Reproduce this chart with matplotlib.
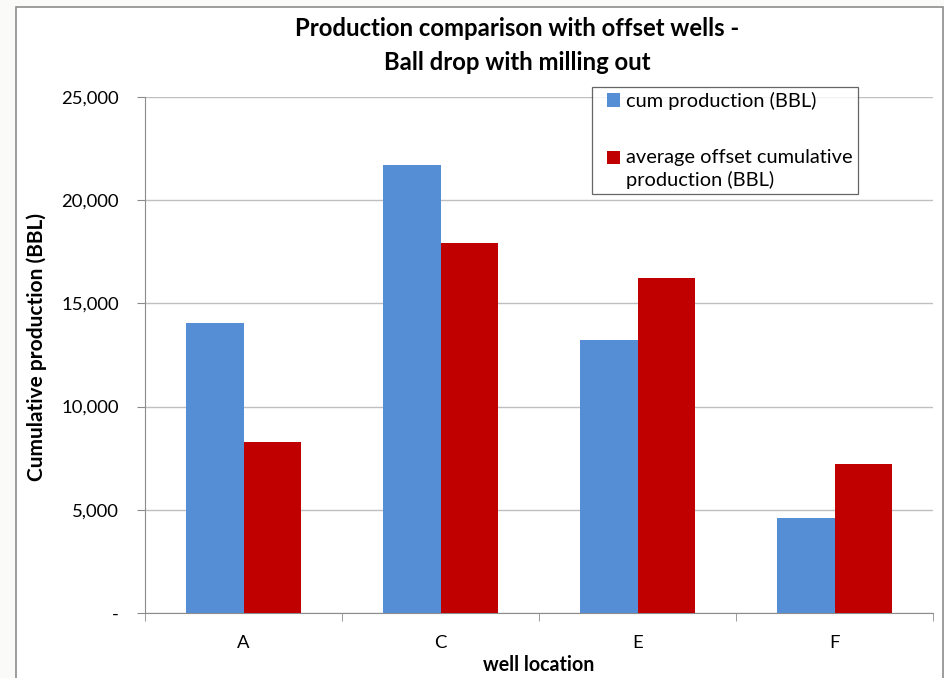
import matplotlib.pyplot as plt
import numpy as np
from matplotlib.patches import Rectangle
from matplotlib.legend_handler import HandlerPatch
from matplotlib.ticker import FuncFormatter

# dados
wells = ['A', 'C', 'E', 'F']
cum_production = [14050, 21700, 13230, 4600]
avg_offset = [8290, 17930, 16230, 7220]

titulo = ['Production comparison with offset wells -', 'Ball drop with milling out']

plt.rcParams['font.family'] = ['Lato', 'DejaVu Sans']

fig = plt.figure(figsize=(9.44, 6.78), dpi=100)
fig.patch.set_facecolor('#FAFAF8')
r = fig.canvas.get_renderer()


# tamanho de fonte para que o texto tenha a largura (px) medida na figura original
def tamanho(s, alvo, peso='normal', base=14.0):
    t = fig.text(0, 0, s, fontsize=base, fontweight=peso)
    larg = t.get_window_extent(renderer=r).width
    t.remove()
    return base * alvo / larg


# moldura do grafico
fig.patches.append(Rectangle((16 / 944, -0.01), (943 - 16) / 944, (678 - 7) / 678 + 0.01,
                             transform=fig.transFigure, facecolor='white',
                             edgecolor='#8C8C8C', linewidth=1.2, zorder=-5))

ax = fig.add_axes([145 / 944, 65 / 678, (933 - 145) / 944, (613 - 97) / 678])
ax.set_facecolor('none')
ax.set_zorder(2)

x = np.arange(len(wells))
w = 0.29
b1 = ax.bar(x - w / 2, cum_production, w, color='#558ED5', zorder=3)
b2 = ax.bar(x + w / 2, avg_offset, w, color='#C00000', zorder=3)

fs_tick = tamanho('25,000', 58)
ax.set_xlim(-0.5, len(wells) - 0.5)
ax.set_ylim(0, 25000)
ax.set_yticks(np.arange(0, 25001, 5000))
ax.yaxis.set_major_formatter(FuncFormatter(lambda v, p: '-' if v == 0 else f'{int(v):,}'))
ax.set_xticks(x)
ax.set_xticklabels(wells)
ax.set_xticks(np.arange(-0.5, len(wells)), minor=True)
ax.tick_params(axis='x', which='major', length=0, pad=16, labelsize=fs_tick)
ax.tick_params(axis='x', which='minor', length=5.5, color='#8C8C8C')
ax.tick_params(axis='y', length=5.8, color='#8C8C8C', labelsize=fs_tick, pad=13)
ax.grid(axis='y', color='#BFBFBF', linewidth=1, zorder=0)

for s in ['top', 'right']:
    ax.spines[s].set_visible(False)
for s in ['left', 'bottom']:
    ax.spines[s].set_color('#8C8C8C')

ax.set_xlabel('well location', fontsize=tamanho('well location', 112, 'bold'), fontweight='bold', labelpad=3)
ax.set_ylabel('Cumulative production (BBL)', fontsize=tamanho('Cumulative production (BBL)', 270, 'bold'),
              fontweight='bold')
ax.yaxis.set_label_coords((47 - 145) / 788, (613 - 347) / 516)

fs_tit = 0.5 * (tamanho(titulo[0], 442, 'bold') + tamanho(titulo[1], 272, 'bold'))
fig.text(517 / 944, 1 - 28 / 678, titulo[0], ha='center', va='center', fontsize=fs_tit, fontweight='bold')
fig.text(517 / 944, 1 - 62 / 678, titulo[1], ha='center', va='center', fontsize=fs_tit, fontweight='bold')


# quadradinho da legenda alinhado com a primeira linha do texto
def quadrado(shift):
    def f(legend, orig_handle, xdescent, ydescent, width, height, fontsize):
        s = 0.66 * fontsize
        return Rectangle((width - xdescent - s, -ydescent + (height - s) / 2 + shift * fontsize), s, s)
    return f


fs_leg = tamanho('average offset cumulative', 227)
leg = ax.legend([b1.patches[0], b2.patches[0]],
                ['cum production (BBL)', 'average offset cumulative\nproduction (BBL)'],
                handler_map={b1.patches[0]: HandlerPatch(patch_func=quadrado(0)),
                             b2.patches[0]: HandlerPatch(patch_func=quadrado(0.6))},
                loc='upper left', bbox_to_anchor=((592 - 145) / 788, (613 - 87) / 516),
                frameon=True, fancybox=False, fontsize=fs_leg, handlelength=1.16, handleheight=0.7,
                handletextpad=0.3, labelspacing=1.95, borderpad=0.25, borderaxespad=0)
leg.get_texts()[1].set_linespacing(1.35)
leg.get_frame().set_edgecolor('#404040')
leg.get_frame().set_linewidth(0.9)

plt.savefig('out.png', dpi=100)
